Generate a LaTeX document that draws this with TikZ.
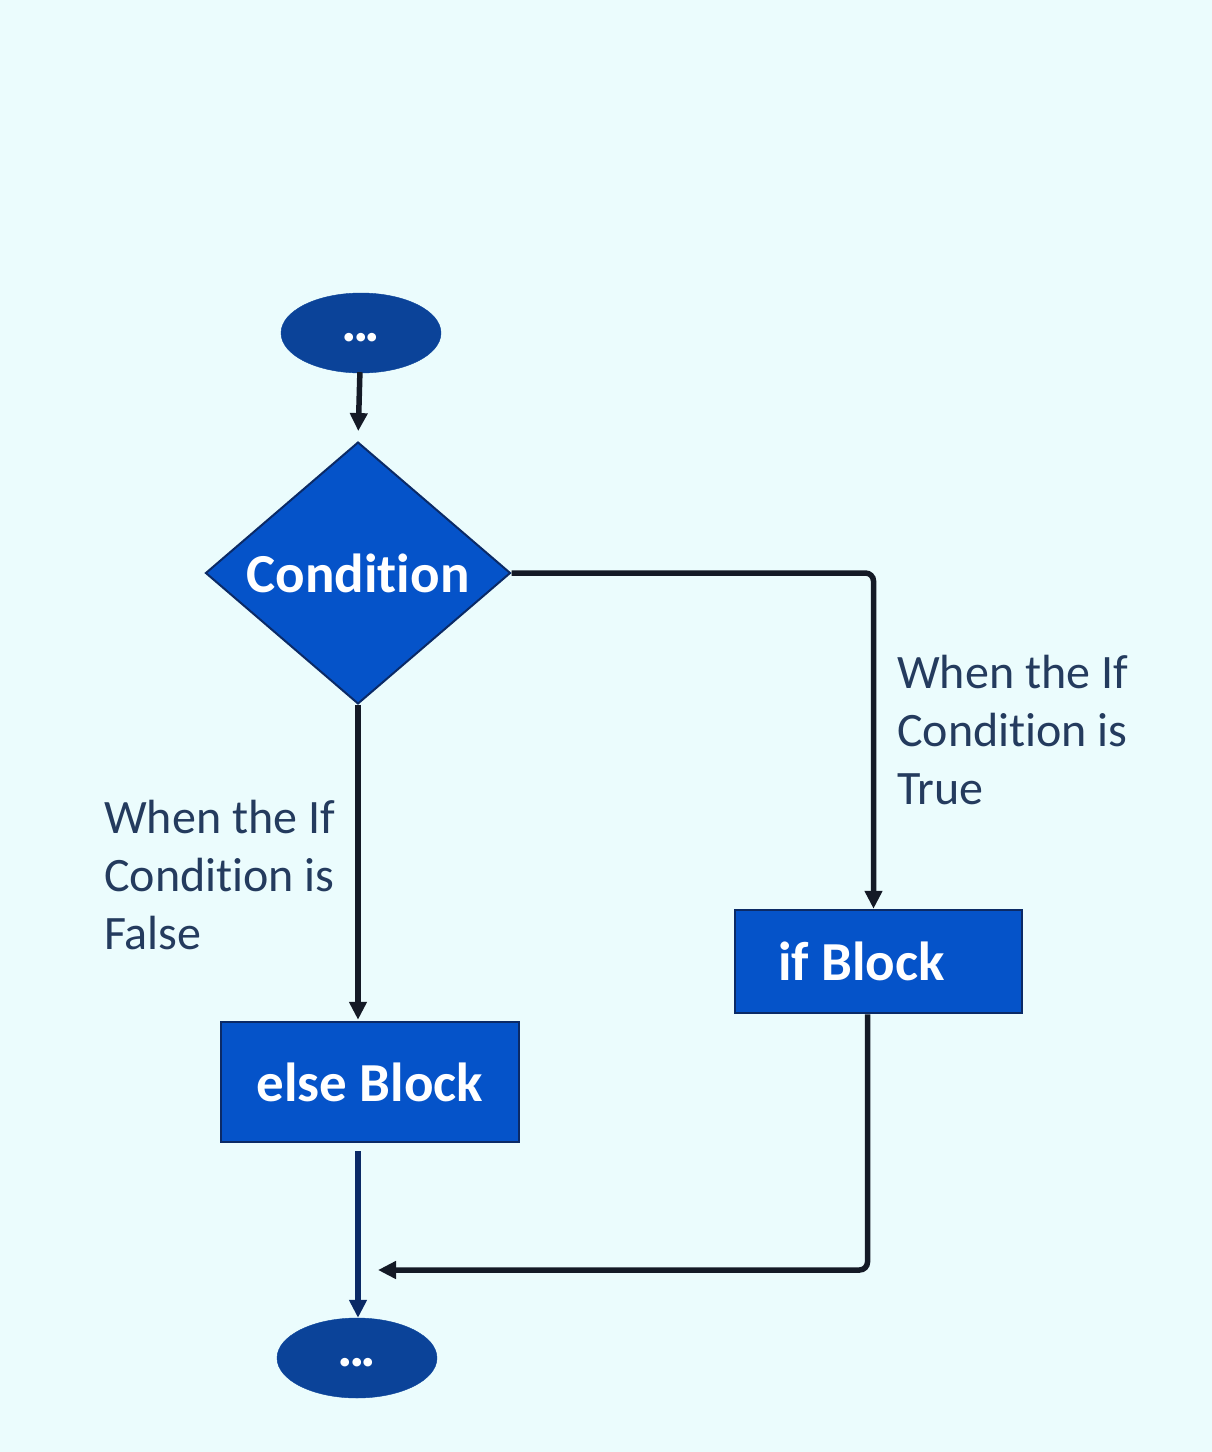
\documentclass[tikz,border=0pt]{standalone}
\usepackage{fontspec}
\setmainfont{Carlito}[Ligatures=NoCommon]
\usetikzlibrary{shapes.geometric,arrows.meta}
\definecolor{bgc}{HTML}{EBFCFD}
\definecolor{blockblue}{HTML}{0553C9}
\definecolor{termblue}{HTML}{0B4399}
\definecolor{edgeblue}{HTML}{0B2A66}
\definecolor{labelc}{HTML}{243B5E}
\definecolor{linec}{HTML}{141A26}
\tikzset{
  term/.style={ellipse, fill=termblue, draw=termblue, minimum width=160pt, minimum height=80pt, inner sep=0pt,
    text=white, font=\bfseries\fontsize{58}{60}\selectfont},
  dec/.style={diamond, fill=blockblue, draw=edgeblue, line width=2pt, minimum width=305pt, minimum height=260pt,
    inner sep=0pt, text=white, font=\bfseries\fontsize{55}{60}\selectfont},
  blk/.style={rectangle, fill=blockblue, draw=edgeblue, line width=2.5pt, inner sep=0pt,
    text=white, font=\bfseries\fontsize{55}{60}\selectfont},
  conn/.style={draw=linec, line width=5.5pt, -{Triangle[length=18pt,width=17pt]}},
  lbl/.style={text=labelc, align=left, inner sep=0pt, font=\fontsize{48}{58}\selectfont}
}
\begin{document}
\begin{tikzpicture}[x=1pt,y=-1pt]
\fill[bgc] (0,0) rectangle (1212,1452);
\useasboundingbox (0,0) rectangle (1212,1452);
\node[term] (start) at (361,333) {\raisebox{-8pt}[0pt][0pt]{.\kern-4pt.\kern-4pt.}};
\node[dec] (cond) at (358,573) {Condition};
\node[blk, minimum width=287pt, minimum height=103pt] (ifb) at (878.5,961.5) {\hspace*{-34pt}if Block};
\node[blk, minimum width=298pt, minimum height=120pt] (elseb) at (370,1082) {else Block};
\node[term] (end) at (357,1358) {\raisebox{-8pt}[0pt][0pt]{.\kern-4pt.\kern-4pt.}};
\coordinate (merge) at (358,1270);
\node[lbl, anchor=north west] (tlbl) at (897,655) {When the If\\Condition is\\True};
\node[lbl, anchor=north west] (flbl) at (104,800) {When the If\\Condition is\\False};
\draw[conn, shorten <=-1pt, shorten >=10pt] (start) -- (cond.north);
\draw[conn, rounded corners=8pt] (cond.east) -| ([xshift=-5pt]ifb.north);
\draw[conn, shorten >=1pt] (cond.south) -- (cond.south |- elseb.north);
\draw[conn, rounded corners=8pt] ([xshift=-11pt]ifb.south) |- ([xshift=20pt]merge);
\draw[conn, draw=edgeblue] ([yshift=-8pt]elseb.south -| merge) -- (end.north -| merge);
\end{tikzpicture}
\end{document}
